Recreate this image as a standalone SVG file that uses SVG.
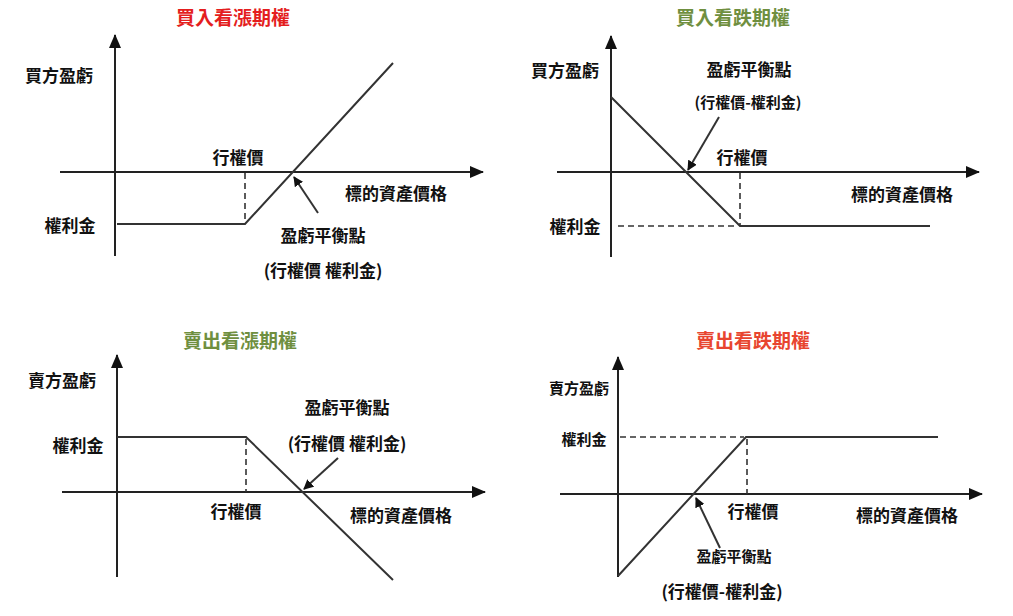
<svg xmlns="http://www.w3.org/2000/svg" width="1013" height="616" viewBox="0 0 1013 616">
<defs>
<marker id="ah" markerWidth="10" markerHeight="10" refX="9" refY="5" orient="auto" markerUnits="userSpaceOnUse" viewBox="0 0 10 10"><path d="M0,0 L10,5 L0,10 z" fill="#111"/></marker>
<marker id="ax" markerWidth="14" markerHeight="14" refX="13" refY="7" orient="auto" markerUnits="userSpaceOnUse" viewBox="0 0 14 14"><path d="M0,1 L14,7 L0,13 z" fill="#111"/></marker>
<style>
text{font-family:"Noto Sans CJK TC","Noto Sans CJK SC",sans-serif;font-weight:bold;text-anchor:middle;fill:#111}
.lb{font-size:17px}
.sm{font-size:15px}
.t{font-size:19px}
.axis{stroke:#222;stroke-width:2;fill:none;marker-end:url(#ax)}
.pay{stroke:#333;stroke-width:2;fill:none}
.dash{stroke:#333;stroke-width:1.6;stroke-dasharray:6,4;fill:none}
.arr{stroke:#333;stroke-width:2;marker-end:url(#ah)}
</style>
</defs>
<g id="titles">
<text class="t" x="233" y="25" style="fill:#e41e1e">買入看漲期權</text>
<text class="t" x="733" y="25" style="fill:#6f8f3f">買入看跌期權</text>
<text class="t" x="240" y="348" style="fill:#6f8f3f">賣出看漲期權</text>
<text class="t" x="753" y="348" style="fill:#e8452f">賣出看跌期權</text>
</g>
<g id="connectors">
<line class="axis" x1="115" y1="256" x2="115" y2="35"/>
<line class="axis" x1="60" y1="172" x2="483" y2="172"/>
<polyline class="pay" points="117,224 245,224 393,63"/>
<line class="dash" x1="245" y1="173" x2="245" y2="224"/>
<line class="arr" x1="318" y1="213" x2="294" y2="177"/>

<line class="axis" x1="611" y1="257" x2="611" y2="36"/>
<line class="axis" x1="557" y1="172" x2="979" y2="172"/>
<polyline class="pay" points="611,97 740,226 930,226"/>
<line class="dash" x1="740" y1="173" x2="740" y2="226"/>
<line class="dash" x1="618" y1="226" x2="738" y2="226"/>
<line class="arr" x1="719" y1="117" x2="688" y2="170"/>

<line class="axis" x1="117" y1="577" x2="117" y2="355"/>
<line class="axis" x1="62" y1="492" x2="485" y2="492"/>
<polyline class="pay" points="117,437 246,437 393,580"/>
<line class="dash" x1="246" y1="439" x2="246" y2="492"/>
<line class="arr" x1="338" y1="458" x2="304" y2="489"/>

<line class="axis" x1="618" y1="577" x2="618" y2="357"/>
<line class="axis" x1="560" y1="494" x2="982" y2="494"/>
<polyline class="pay" points="618,576 746,437 938,437"/>
<line class="dash" x1="620" y1="437" x2="744" y2="437"/>
<line class="dash" x1="747" y1="439" x2="747" y2="494"/>
<line class="arr" x1="720" y1="548" x2="696" y2="498"/>
</g>
<g id="p1">
<text class="lb" x="59" y="82">買方盈虧</text>
<text class="lb" x="70" y="232">權利金</text>
<text class="lb" x="238" y="164">行權價</text>
<text class="lb" x="396" y="200">標的資產價格</text>
<text class="lb" x="323" y="242">盈虧平衡點</text>
<text class="lb" x="323" y="277">(行權價 權利金)</text>
</g>
<g id="p2">
<text class="lb" x="565" y="77">買方盈虧</text>
<text class="lb" x="749" y="76">盈虧平衡點</text>
<text class="sm" x="748" y="108">(行權價-權利金)</text>
<text class="lb" x="742" y="164">行權價</text>
<text class="lb" x="902" y="201">標的資產價格</text>
<text class="lb" x="575" y="233">權利金</text>
</g>
<g id="p3">
<text class="lb" x="62" y="387">賣方盈虧</text>
<text class="lb" x="78" y="452">權利金</text>
<text class="lb" x="347" y="414">盈虧平衡點</text>
<text class="lb" x="347" y="450">(行權價 權利金)</text>
<text class="lb" x="236" y="518">行權價</text>
<text class="lb" x="401" y="522">標的資產價格</text>
</g>
<g id="p4">
<text class="sm" x="579" y="394">賣方盈虧</text>
<text class="sm" x="584" y="445">權利金</text>
<text class="lb" x="753" y="518">行權價</text>
<text class="lb" x="907" y="522">標的資產價格</text>
<text class="sm" x="734" y="562">盈虧平衡點</text>
<text class="lb" x="722" y="598">(行權價-權利金)</text>
</g>
</svg>
